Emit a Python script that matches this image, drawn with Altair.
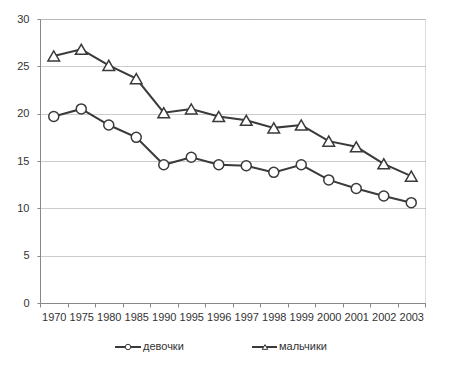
import altair as alt
import pandas as pd

years = ["1970", "1975", "1980", "1985", "1990", "1995", "1996", "1997",
         "1998", "1999", "2000", "2001", "2002", "2003"]
girls = [19.7, 20.5, 18.8, 17.5, 14.6, 15.4, 14.6, 14.5, 13.8, 14.6, 13.0, 12.1, 11.3, 10.6]
boys = [26.1, 26.8, 25.1, 23.7, 20.1, 20.5, 19.7, 19.3, 18.5, 18.8, 17.1, 16.5, 14.7, 13.4]
series_names = ["девочки", "мальчики"]
y_ticks = [0, 5, 10, 15, 20, 25, 30]

rows = []
for name, vals in zip(series_names, [girls, boys]):
    for yr, v in zip(years, vals):
        rows.append({"year": yr, "value": v, "series": name})
df = pd.DataFrame(rows)

FONT = "Liberation Sans"
DARK = "#3a3a3a"

x = alt.X("year:O", sort=years, title=None,
          scale=alt.Scale(paddingInner=0, paddingOuter=0),
          axis=alt.Axis(labelAngle=0, tickBand="extent", tickSize=4,
                        labelPadding=4, labelFontSize=11, labelColor="#333",
                        labelFont=FONT, domainColor="#888", tickColor="#888",
                        grid=False))
y = alt.Y("value:Q", title=None,
          scale=alt.Scale(domain=[0, 30], nice=False),
          axis=alt.Axis(values=y_ticks, tickSize=3, labelPadding=8,
                        labelFontSize=11, labelColor="#333", labelFont=FONT,
                        domainColor="#888", tickColor="#888",
                        grid=True, gridColor="#999", gridDash=[1, 1]))

shape_scale = alt.Scale(domain=series_names, range=["circle", "triangle-up"])
size_scale = alt.Scale(domain=series_names, range=[100, 135])

base = alt.Chart(df)
lines = base.mark_line(color=DARK, strokeWidth=2).encode(
    x=x, y=y, detail="series:N")
points = base.mark_point(filled=True, fill="white", stroke=DARK,
                         strokeWidth=1.5, opacity=1).encode(
    x=x, y=y,
    shape=alt.Shape("series:N", scale=shape_scale, legend=None),
    size=alt.Size("series:N", scale=size_scale, legend=None))

leg_df = pd.DataFrame({"series": series_names})
leg_layers = []
legend_pos = [(75, 101, 88, 103), (212, 237, 225, 239)]
shapes = ["circle", "triangle-up"]
LY = 328
for i, (name, (x1, x2, xm, xt)) in enumerate(zip(series_names, legend_pos)):
    d = leg_df[leg_df.series == name]
    ch = alt.Chart(d)
    leg_layers.append(ch.mark_rule(color=DARK, strokeWidth=2).encode(
        x=alt.value(x1), x2=alt.value(x2), y=alt.value(LY)))
    leg_layers.append(ch.mark_point(shape=shapes[i], filled=True, fill="white",
                                    stroke=DARK, strokeWidth=1, size=30,
                                    opacity=1).encode(
        x=alt.value(xm), y=alt.value(LY)))
    leg_layers.append(ch.mark_text(align="left", baseline="middle", font=FONT,
                                   fontSize=11, color="#333").encode(
        x=alt.value(xt), y=alt.value(LY), text="series:N"))

chart = alt.layer(lines, points, *leg_layers).properties(
    width=385, height=284,
    autosize=alt.AutoSizeParams(type="none"),
    padding={"left": 32, "top": 11, "right": 17, "bottom": 56},
).configure_view(stroke="#999", strokeDash=[1, 1]).configure(background="white")

chart.save("out.html", embed_options={"renderer": "svg", "actions": False})
